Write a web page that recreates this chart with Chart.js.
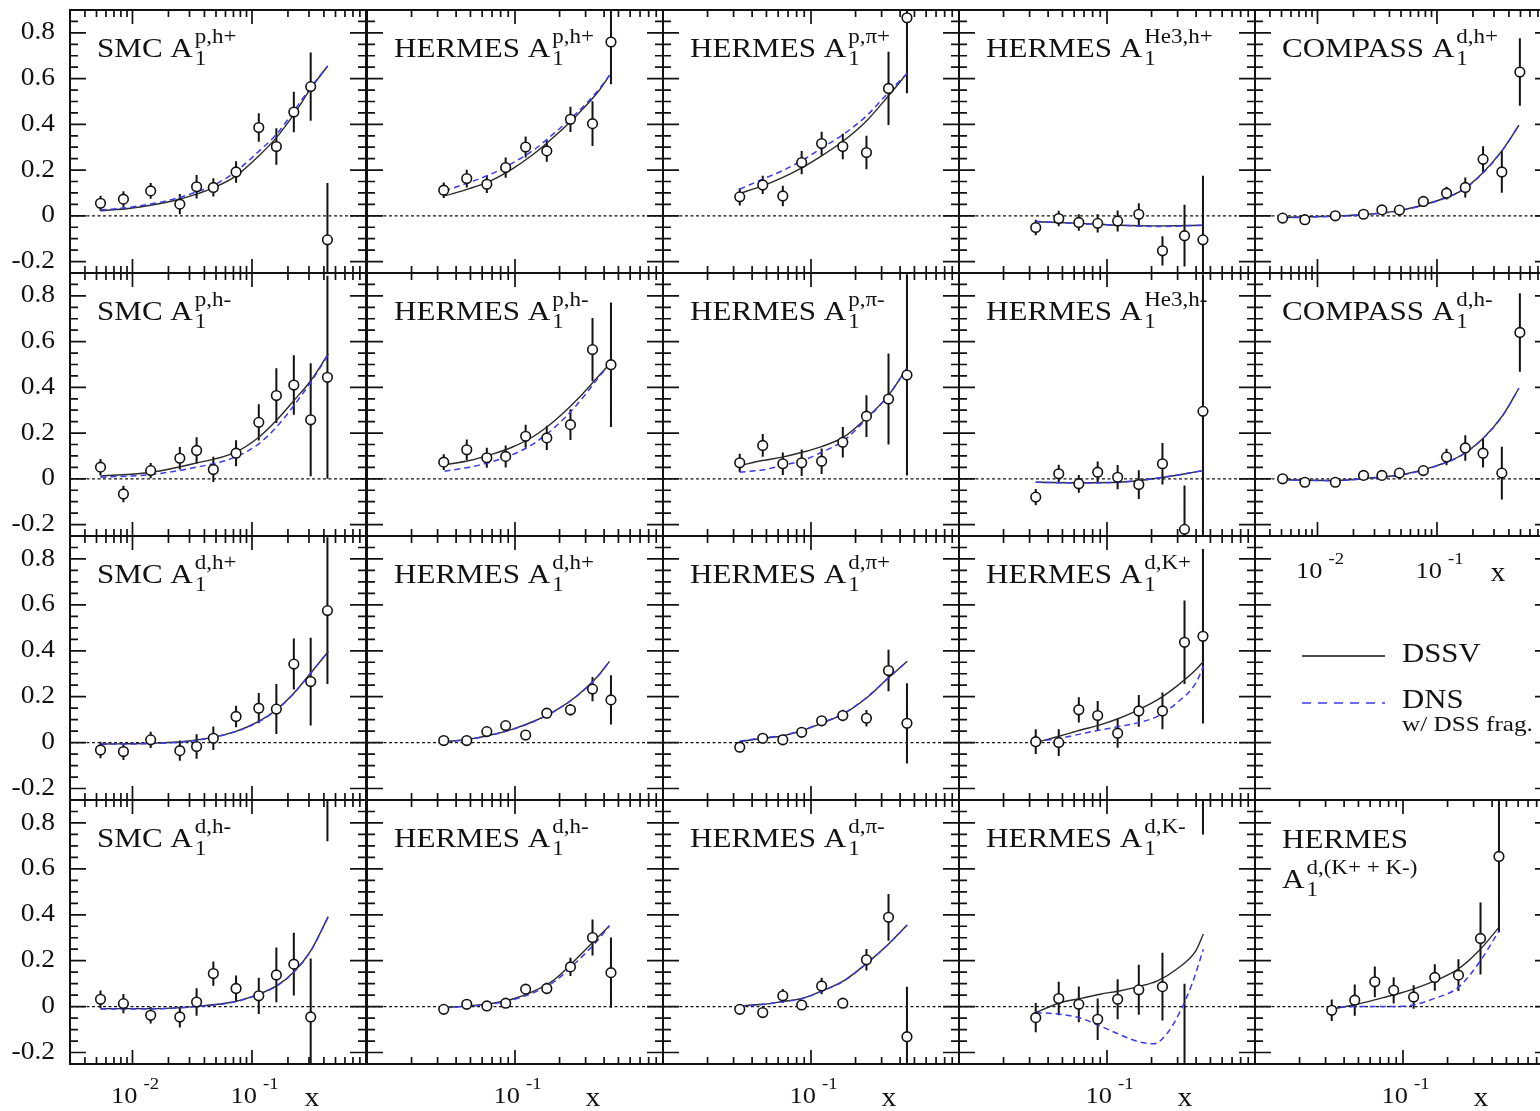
<!DOCTYPE html>
<html>
<head>
<meta charset="utf-8">
<title>A1 hadron asymmetries</title>
<script src="https://cdn.jsdelivr.net/npm/chart.js@4.4.1/dist/chart.umd.min.js"></script>
<style>
  html, body { margin: 0; padding: 0; background: #fff; }
  #fig { position: relative; width: 1540px; height: 1111px; overflow: hidden; background: #fff; }
  #fig canvas { position: absolute; }
</style>
</head>
<body>
<div id="fig"></div>
<script>
// ── axes ──
const yMin = -0.25, yMax = 0.9;
const wideRange = [0.003, 0.9];      // SMC + COMPASS panels
const hermesRange = [0.01, 1];       // HERMES panels
const yMajor = [-0.2, 0, 0.2, 0.4, 0.6, 0.8];
const yLabels = ['-0.2', '0', '0.2', '0.4', '0.6', '0.8'];
const yMinor = [-0.15, -0.1, -0.05, 0.05, 0.1, 0.15, 0.25, 0.3, 0.35, 0.45, 0.5, 0.55, 0.65, 0.7, 0.75, 0.85];
const decades = [0.001, 0.01, 0.1, 1];
const minorSteps = [2, 3, 4, 5, 6, 7, 8, 9];

// ── x bins ──
const smcBinX = [0.0054, 0.0084, 0.0142, 0.0249, 0.0344, 0.0475, 0.0736, 0.114, 0.160, 0.224, 0.310, 0.428];
const compassBinX = [0.00511, 0.00784, 0.0141, 0.0243, 0.0346, 0.0485, 0.0769, 0.1202, 0.1726, 0.243, 0.349, 0.494];
const hermesBinX = [0.033, 0.0472, 0.0645, 0.0865, 0.118, 0.164, 0.237, 0.334, 0.445];

// ── curve x grids ──
const smcPHpCurveX = [0.0054, 0.0096, 0.0215, 0.0344, 0.0483, 0.0736, 0.114, 0.160, 0.224, 0.310, 0.430];
const smcCurveX = [0.0054, 0.0144, 0.0323, 0.0724, 0.114, 0.160, 0.224, 0.310, 0.435];
const compassCurveX = [0.00511, 0.0139, 0.0268, 0.0518, 0.100, 0.1585, 0.235, 0.349, 0.485];
const hermesHCurveX = [0.0334, 0.0491, 0.0684, 0.0954, 0.133, 0.186, 0.259, 0.361, 0.435];
const hermesPiCurveX = [0.0329, 0.047, 0.064, 0.0873, 0.118, 0.166, 0.237, 0.333, 0.446];
const hermesHeCurveX = [0.033, 0.0667, 0.121, 0.219, 0.448];
const hermesKCurveX = [0.033, 0.0481, 0.0667, 0.0898, 0.121, 0.163, 0.219, 0.295, 0.398, 0.448];
const hermesDKmDnsX = [0.033, 0.0481, 0.0667, 0.0898, 0.121, 0.163, 0.207, 0.262, 0.313, 0.375, 0.448];
const hermesDKsCurveX = [0.032, 0.0467, 0.0733, 0.095, 0.117, 0.164, 0.2355, 0.333, 0.445];

// ── row 1 ──
const smcPHpY = [0.055, 0.073, 0.109, 0.051, 0.127, 0.124, 0.192, 0.386, 0.303, 0.454, 0.565, -0.105];
const smcPHpErr = [0.033, 0.035, 0.034, 0.044, 0.051, 0.040, 0.047, 0.062, 0.080, 0.089, 0.149, 0.248];
const smcPHpDssv = [0.022, 0.033, 0.065, 0.095, 0.124, 0.175, 0.262, 0.342, 0.444, 0.556, 0.655];
const smcPHpDns = [0.025, 0.038, 0.072, 0.105, 0.135, 0.195, 0.282, 0.356, 0.458, 0.562, 0.655];

const hermesPHpY = [0.112, 0.163, 0.138, 0.211, 0.301, 0.284, 0.422, 0.403, 0.760];
const hermesPHpErr = [0.034, 0.039, 0.038, 0.044, 0.046, 0.047, 0.055, 0.098, 0.185];
const hermesPHpDssv = [0.087, 0.119, 0.153, 0.204, 0.269, 0.349, 0.437, 0.539, 0.614];
const hermesPHpDns = [0.109, 0.146, 0.182, 0.229, 0.287, 0.364, 0.447, 0.546, 0.614];

const hermesPPipY = [0.083, 0.135, 0.087, 0.233, 0.316, 0.303, 0.277, 0.557, 0.866];
const hermesPPipErr = [0.038, 0.040, 0.045, 0.051, 0.052, 0.056, 0.073, 0.160, 0.330];
const hermesPPipDssv = [0.098, 0.131, 0.167, 0.211, 0.262, 0.328, 0.415, 0.524, 0.623];
const hermesPPipDns = [0.116, 0.160, 0.197, 0.243, 0.296, 0.357, 0.437, 0.539, 0.623];

const hermesHeHpY = [-0.051, -0.012, -0.029, -0.033, -0.023, 0.007, -0.153, -0.087, -0.105];
const hermesHeHpErr = [0.034, 0.034, 0.036, 0.040, 0.046, 0.048, 0.064, 0.135, 0.280];
const hermesHeHpDssv = [-0.026, -0.033, -0.041, -0.044, -0.041];
const hermesHeHpDns = [-0.024, -0.035, -0.041, -0.047, -0.041];

const compassDHpY = [-0.010, -0.017, 0.000, 0.007, 0.026, 0.025, 0.063, 0.099, 0.124, 0.247, 0.192, 0.629];
const compassDHpErr = [0.010, 0.010, 0.010, 0.010, 0.012, 0.015, 0.015, 0.028, 0.044, 0.057, 0.091, 0.148];
const compassDHpDssv = [-0.007, -0.001, 0.007, 0.026, 0.066, 0.109, 0.182, 0.284, 0.396];
const compassDHpDns = [-0.009, -0.002, 0.006, 0.025, 0.065, 0.108, 0.180, 0.283, 0.396];

// ── row 2 ──
const smcPHmY = [0.051, -0.066, 0.036, 0.090, 0.124, 0.041, 0.112, 0.247, 0.364, 0.410, 0.258, 0.444];
const smcPHmErr = [0.036, 0.036, 0.033, 0.049, 0.058, 0.055, 0.057, 0.079, 0.120, 0.130, 0.247, 0.444];
const smcPHmDssv = [0.012, 0.029, 0.066, 0.116, 0.182, 0.255, 0.342, 0.429, 0.546];
const smcPHmDns = [0.007, 0.019, 0.048, 0.095, 0.153, 0.226, 0.320, 0.422, 0.543];

const hermesPHmY = [0.073, 0.127, 0.092, 0.098, 0.186, 0.179, 0.237, 0.565, 0.499];
const hermesPHmErr = [0.034, 0.045, 0.044, 0.048, 0.050, 0.053, 0.067, 0.138, 0.272];
const hermesPHmDssv = [0.061, 0.080, 0.106, 0.138, 0.185, 0.255, 0.342, 0.444, 0.502];
const hermesPHmDns = [0.033, 0.051, 0.073, 0.105, 0.153, 0.226, 0.320, 0.437, 0.502];

const hermesPPimY = [0.070, 0.146, 0.066, 0.070, 0.077, 0.160, 0.274, 0.349, 0.454];
const hermesPPimErr = [0.040, 0.050, 0.049, 0.058, 0.056, 0.067, 0.091, 0.199, 0.440];
const hermesPPimDssv = [0.058, 0.080, 0.095, 0.116, 0.141, 0.182, 0.266, 0.364, 0.485];
const hermesPPimDns = [0.029, 0.039, 0.058, 0.080, 0.116, 0.167, 0.262, 0.364, 0.485];

const hermesHeHmY = [-0.080, 0.022, -0.022, 0.029, 0.007, -0.025, 0.066, -0.221, 0.295];
const hermesHeHmErr = [0.035, 0.040, 0.039, 0.047, 0.053, 0.063, 0.091, 0.192, 0.600];
const hermesHeHmDssv = [-0.015, -0.017, -0.015, 0.003, 0.036];
const hermesHeHmDns = [-0.015, -0.018, -0.015, 0.003, 0.036];

const compassDHmY = [0.000, -0.015, -0.015, 0.015, 0.015, 0.025, 0.036, 0.095, 0.135, 0.112, 0.025, 0.640];
const compassDHmErr = [0.010, 0.010, 0.010, 0.010, 0.012, 0.013, 0.015, 0.036, 0.056, 0.063, 0.115, 0.172];
const compassDHmDssv = [-0.004, -0.007, 0.003, 0.019, 0.058, 0.102, 0.170, 0.272, 0.396];
const compassDHmDns = [-0.006, -0.008, 0.002, 0.018, 0.057, 0.101, 0.169, 0.271, 0.396];

// ── row 3 ──
const smcDHpY = [-0.032, -0.039, 0.012, -0.035, -0.017, 0.019, 0.114, 0.150, 0.146, 0.342, 0.266, 0.575];
const smcDHpErr = [0.036, 0.037, 0.035, 0.044, 0.053, 0.051, 0.047, 0.066, 0.109, 0.111, 0.191, 0.320];
const smcDHpDssv = [-0.006, -0.003, 0.009, 0.048, 0.092, 0.143, 0.215, 0.303, 0.397];
const smcDHpDns = [-0.007, -0.004, 0.008, 0.047, 0.091, 0.142, 0.214, 0.302, 0.397];

const hermesDHpY = [0.009, 0.009, 0.048, 0.074, 0.033, 0.128, 0.143, 0.233, 0.186];
const hermesDHpErr = [0.010, 0.010, 0.015, 0.018, 0.015, 0.020, 0.025, 0.053, 0.107];
const hermesDHpDssv = [0.004, 0.015, 0.033, 0.058, 0.092, 0.138, 0.201, 0.288, 0.354];
const hermesDHpDns = [0.003, 0.014, 0.032, 0.057, 0.091, 0.137, 0.200, 0.287, 0.354];

const hermesDPipY = [-0.020, 0.019, 0.012, 0.045, 0.095, 0.118, 0.106, 0.314, 0.084];
const hermesDPipErr = [0.010, 0.015, 0.012, 0.018, 0.018, 0.025, 0.036, 0.090, 0.175];
const hermesDPipDssv = [0.004, 0.019, 0.029, 0.052, 0.084, 0.125, 0.194, 0.281, 0.354];
const hermesDPipDns = [0.006, 0.021, 0.031, 0.054, 0.086, 0.127, 0.196, 0.282, 0.354];

const hermesDKpY = [0.004, 0.000, 0.143, 0.118, 0.041, 0.138, 0.138, 0.437, 0.463];
const hermesDKpErr = [0.054, 0.058, 0.055, 0.063, 0.063, 0.069, 0.080, 0.182, 0.380];
const hermesDKpDssv = [0.000, 0.029, 0.055, 0.077, 0.106, 0.143, 0.186, 0.245, 0.317, 0.354];
const hermesDKpDns = [0.004, 0.019, 0.038, 0.055, 0.070, 0.087, 0.114, 0.172, 0.259, 0.332];

// ── row 4 ──
const smcDHmY = [0.032, 0.013, -0.038, -0.045, 0.020, 0.144, 0.079, 0.047, 0.138, 0.185, -0.045, 1.100];
const smcDHmErr = [0.038, 0.042, 0.036, 0.046, 0.060, 0.053, 0.057, 0.079, 0.119, 0.137, 0.255, 0.380];
const smcDHmDssv = [-0.009, -0.009, 0.000, 0.022, 0.054, 0.090, 0.151, 0.243, 0.392];
const smcDHmDns = [-0.010, -0.010, -0.001, 0.021, 0.053, 0.089, 0.150, 0.242, 0.392];

const hermesDHmY = [-0.012, 0.010, 0.003, 0.015, 0.076, 0.079, 0.173, 0.301, 0.148];
const hermesDHmErr = [0.010, 0.012, 0.012, 0.018, 0.022, 0.025, 0.040, 0.078, 0.153];
const hermesDHmDssv = [-0.004, 0.003, 0.013, 0.032, 0.066, 0.119, 0.207, 0.301, 0.352];
const hermesDHmDns = [-0.005, 0.002, 0.011, 0.029, 0.060, 0.111, 0.193, 0.288, 0.352];

const hermesDPimY = [-0.012, -0.026, 0.047, 0.007, 0.090, 0.015, 0.204, 0.389, -0.131];
const hermesDPimErr = [0.012, 0.015, 0.030, 0.015, 0.036, 0.020, 0.047, 0.102, 0.218];
const hermesDPimDssv = [0.003, 0.010, 0.022, 0.036, 0.068, 0.112, 0.188, 0.272, 0.355];
const hermesDPimDns = [0.002, 0.009, 0.021, 0.035, 0.067, 0.111, 0.187, 0.271, 0.355];

const hermesDKmY = [-0.048, 0.035, 0.010, -0.055, 0.032, 0.073, 0.087, -0.350, 1.150];
const hermesDKmErr = [0.064, 0.073, 0.078, 0.090, 0.087, 0.109, 0.148, 0.450, 0.400];
const hermesDKmDssv = [-0.026, 0.017, 0.036, 0.054, 0.068, 0.087, 0.112, 0.163, 0.243, 0.316];
const hermesDKmDns = [-0.026, -0.033, -0.051, -0.084, -0.121, -0.153, -0.162, -0.106, -0.019, 0.098, 0.250];

const hermesDKsY = [-0.016, 0.028, 0.108, 0.071, 0.042, 0.127, 0.137, 0.297, 0.654];
const hermesDKsErr = [0.047, 0.068, 0.067, 0.057, 0.051, 0.058, 0.069, 0.157, 0.330];
const hermesDKsDssv = [-0.012, 0.007, 0.039, 0.058, 0.076, 0.112, 0.163, 0.250, 0.345];
const hermesDKsDns = [-0.004, 0.000, 0.000, 0.001, 0.007, 0.036, 0.083, 0.199, 0.330];

// ── layout ──
const colLeft = [70, 367, 663, 959, 1255];
const colWidth = 296;
const rowEdges = [10, 273, 536, 800, 1064];
const ink = '#121212';
const dnsBlue = '#3b3bef';

const panels = [
  { row: 0, col: 0, name: 'SMC', sup: 'p,h+', range: wideRange, x: smcBinX, y: smcPHpY, err: smcPHpErr, cx: smcPHpCurveX, dssv: smcPHpDssv, dns: smcPHpDns },
  { row: 0, col: 1, name: 'HERMES', sup: 'p,h+', range: hermesRange, x: hermesBinX, y: hermesPHpY, err: hermesPHpErr, cx: hermesHCurveX, dssv: hermesPHpDssv, dns: hermesPHpDns },
  { row: 0, col: 2, name: 'HERMES', sup: 'p,\u03c0+', range: hermesRange, x: hermesBinX, y: hermesPPipY, err: hermesPPipErr, cx: hermesPiCurveX, dssv: hermesPPipDssv, dns: hermesPPipDns },
  { row: 0, col: 3, name: 'HERMES', sup: 'He3,h+', range: hermesRange, x: hermesBinX, y: hermesHeHpY, err: hermesHeHpErr, cx: hermesHeCurveX, dssv: hermesHeHpDssv, dns: hermesHeHpDns },
  { row: 0, col: 4, name: 'COMPASS', sup: 'd,h+', range: wideRange, x: compassBinX, y: compassDHpY, err: compassDHpErr, cx: compassCurveX, dssv: compassDHpDssv, dns: compassDHpDns },

  { row: 1, col: 0, name: 'SMC', sup: 'p,h-', range: wideRange, x: smcBinX, y: smcPHmY, err: smcPHmErr, cx: smcCurveX, dssv: smcPHmDssv, dns: smcPHmDns },
  { row: 1, col: 1, name: 'HERMES', sup: 'p,h-', range: hermesRange, x: hermesBinX, y: hermesPHmY, err: hermesPHmErr, cx: hermesHCurveX, dssv: hermesPHmDssv, dns: hermesPHmDns },
  { row: 1, col: 2, name: 'HERMES', sup: 'p,\u03c0-', range: hermesRange, x: hermesBinX, y: hermesPPimY, err: hermesPPimErr, cx: hermesPiCurveX, dssv: hermesPPimDssv, dns: hermesPPimDns },
  { row: 1, col: 3, name: 'HERMES', sup: 'He3,h-', range: hermesRange, x: hermesBinX, y: hermesHeHmY, err: hermesHeHmErr, cx: hermesHeCurveX, dssv: hermesHeHmDssv, dns: hermesHeHmDns },
  { row: 1, col: 4, name: 'COMPASS', sup: 'd,h-', range: wideRange, x: compassBinX, y: compassDHmY, err: compassDHmErr, cx: compassCurveX, dssv: compassDHmDssv, dns: compassDHmDns },

  { row: 2, col: 0, name: 'SMC', sup: 'd,h+', range: wideRange, x: smcBinX, y: smcDHpY, err: smcDHpErr, cx: smcCurveX, dssv: smcDHpDssv, dns: smcDHpDns },
  { row: 2, col: 1, name: 'HERMES', sup: 'd,h+', range: hermesRange, x: hermesBinX, y: hermesDHpY, err: hermesDHpErr, cx: hermesHCurveX, dssv: hermesDHpDssv, dns: hermesDHpDns },
  { row: 2, col: 2, name: 'HERMES', sup: 'd,\u03c0+', range: hermesRange, x: hermesBinX, y: hermesDPipY, err: hermesDPipErr, cx: hermesPiCurveX, dssv: hermesDPipDssv, dns: hermesDPipDns },
  { row: 2, col: 3, name: 'HERMES', sup: 'd,K+', range: hermesRange, x: hermesBinX, y: hermesDKpY, err: hermesDKpErr, cx: hermesKCurveX, dssv: hermesDKpDssv, dns: hermesDKpDns },
  { row: 2, col: 4, legend: true, range: wideRange },

  { row: 3, col: 0, name: 'SMC', sup: 'd,h-', range: wideRange, x: smcBinX, y: smcDHmY, err: smcDHmErr, cx: smcCurveX, dssv: smcDHmDssv, dns: smcDHmDns },
  { row: 3, col: 1, name: 'HERMES', sup: 'd,h-', range: hermesRange, x: hermesBinX, y: hermesDHmY, err: hermesDHmErr, cx: hermesHCurveX, dssv: hermesDHmDssv, dns: hermesDHmDns },
  { row: 3, col: 2, name: 'HERMES', sup: 'd,\u03c0-', range: hermesRange, x: hermesBinX, y: hermesDPimY, err: hermesDPimErr, cx: hermesPiCurveX, dssv: hermesDPimDssv, dns: hermesDPimDns },
  { row: 3, col: 3, name: 'HERMES', sup: 'd,K-', range: hermesRange, x: hermesBinX, y: hermesDKmY, err: hermesDKmErr, cx: hermesKCurveX, dssv: hermesDKmDssv, dnsX: hermesDKmDnsX, dns: hermesDKmDns },
  { row: 3, col: 4, name: 'HERMES', line2: true, sup: 'd,(K+ + K-)', range: hermesRange, x: hermesBinX, y: hermesDKsY, err: hermesDKsErr, cx: hermesDKsCurveX, dssv: hermesDKsDssv, dns: hermesDKsDns },
];

const serif = size => `${size}px "Liberation Serif", "Times New Roman", serif`;
const pairs = (xs, ys) => xs.map((v, i) => ({ x: v, y: ys[i] }));

// text drawn slightly wider than the font, like the scanned original; returns drawn width
function wideText(ctx, text, x, y, sx, align) {
  const w = ctx.measureText(text).width * sx;
  const x0 = align === 'right' ? x - w : align === 'center' ? x - w / 2 : x;
  ctx.save();
  ctx.textAlign = 'left';
  ctx.translate(x0, y);
  ctx.scale(sx, 1);
  ctx.fillText(text, 0, 0);
  ctx.restore();
  return w;
}

// decade labels "10^-n" + "x" title
function drawDecadeLabels(ctx, xs, vals, base, xTitleAt) {
  vals.forEach(v => {
    const px = xs.getPixelForValue(v);
    ctx.font = serif(24);
    wideText(ctx, '10', px + 5, base, 1.1, 'right');
    ctx.font = serif(17);
    wideText(ctx, v === 0.01 ? '-2' : '-1', px + 11, base - 14, 1.1, 'left');
  });
  ctx.font = serif(27);
  wideText(ctx, 'x', xTitleAt, base + 3, 1.1, 'center');
}

function decorPlugin(p) {
  return {
    id: 'decor',
    beforeDatasetsDraw(chart) {
      if (p.legend) return;
      const { ctx, chartArea: a, scales: { x: xs, y: ys } } = chart;
      ctx.save();
      ctx.beginPath();
      ctx.rect(a.left, a.top, a.width, a.height);
      ctx.clip();
      // dotted zero line
      ctx.strokeStyle = ink;
      ctx.lineWidth = 1.3;
      ctx.setLineDash([3, 2.5]);
      const y0 = ys.getPixelForValue(0);
      ctx.beginPath();
      ctx.moveTo(a.left, y0);
      ctx.lineTo(a.right, y0);
      ctx.stroke();
      // error bars
      ctx.setLineDash([]);
      ctx.lineWidth = 2;
      ctx.beginPath();
      p.x.forEach((v, i) => {
        const px = xs.getPixelForValue(v);
        ctx.moveTo(px, ys.getPixelForValue(p.y[i] + p.err[i]));
        ctx.lineTo(px, ys.getPixelForValue(p.y[i] - p.err[i]));
      });
      ctx.stroke();
      ctx.restore();
    },
    afterDraw(chart) {
      const { ctx, chartArea: a, scales: { x: xs, y: ys } } = chart;
      const [lo, hi] = p.range;
      ctx.save();
      ctx.strokeStyle = ink;
      ctx.fillStyle = ink;

      // inward ticks
      ctx.lineWidth = 1.7;
      ctx.beginPath();
      const yTick = (v, len) => {
        const py = ys.getPixelForValue(v);
        ctx.moveTo(a.left, py); ctx.lineTo(a.left + len, py);
        ctx.moveTo(a.right, py); ctx.lineTo(a.right - len, py);
      };
      yMajor.forEach(v => yTick(v, 16));
      yMinor.forEach(v => yTick(v, 8));
      if (!p.legend) {
        decades.forEach(d => [1, ...minorSteps].forEach(m => {
          const v = d * m;
          if (v <= lo * 1.001 || v >= hi * 0.999) return;
          const px = xs.getPixelForValue(v);
          const len = m === 1 ? 14 : 7;
          ctx.moveTo(px, a.top); ctx.lineTo(px, a.top + len);
          ctx.moveTo(px, a.bottom); ctx.lineTo(px, a.bottom - len);
        }));
      }
      ctx.stroke();

      // frame
      ctx.lineWidth = 2;
      ctx.strokeRect(a.left, a.top, a.width, a.height);

      // y labels on the first column
      if (p.col === 0) {
        ctx.font = serif(25);
        ctx.textBaseline = 'middle';
        yMajor.forEach((v, i) => wideText(ctx, yLabels[i], a.left - 15, ys.getPixelForValue(v), 1.1, 'right'));
      }
      ctx.textBaseline = 'alphabetic';

      if (p.legend) {
        drawDecadeLabels(ctx, xs, [0.01, 0.1], a.top + 42, a.left + 243);
        ctx.lineWidth = 1.6;
        ctx.beginPath();
        ctx.moveTo(a.left + 47, a.top + 120);
        ctx.lineTo(a.left + 130, a.top + 120);
        ctx.stroke();
        ctx.strokeStyle = dnsBlue;
        ctx.setLineDash([9, 7]);
        ctx.beginPath();
        ctx.moveTo(a.left + 47, a.top + 167);
        ctx.lineTo(a.left + 130, a.top + 167);
        ctx.stroke();
        ctx.setLineDash([]);
        ctx.font = serif(28);
        wideText(ctx, 'DSSV', a.left + 147, a.top + 126, 1.1, 'left');
        wideText(ctx, 'DNS', a.left + 147, a.top + 172, 1.1, 'left');
        ctx.font = serif(21);
        wideText(ctx, 'w/ DSS frag.', a.left + 147, a.top + 195, 1.2, 'left');
        ctx.restore();
        return;
      }

      // panel title: NAME A_1^{sup}
      const sx = 1.15;
      let tx = a.left + 27, base = a.top + 47;
      ctx.font = serif(27);
      if (p.line2) {
        wideText(ctx, p.name, tx, a.top + 48, sx, 'left');
        base = a.top + 88;
        tx += wideText(ctx, 'A', tx, base, sx, 'left') + 2;
      } else {
        tx += wideText(ctx, p.name + ' A', tx, base, sx, 'left') + 2;
      }
      ctx.font = serif(20);
      wideText(ctx, p.sup, tx, base - 14, sx, 'left');
      wideText(ctx, '1', tx, base + 8, sx, 'left');

      // x labels below the bottom row
      if (p.row === 3) {
        const vals = p.col === 0 ? [0.01, 0.1] : [0.1];
        drawDecadeLabels(ctx, xs, vals, a.bottom + 39, a.left + (p.col === 0 ? 242 : 226));
      }
      ctx.restore();
    }
  };
}

function buildPanel(p) {
  const fig = document.getElementById('fig');
  const left = colLeft[p.col];
  const top = rowEdges[p.row];
  const h = rowEdges[p.row + 1] - top;
  const pad = {
    left: p.col === 0 ? 70 : 12,
    right: 12,
    top: p.row === 0 ? 10 : 12,
    bottom: p.row === 3 ? 47 : 12
  };
  const cv = document.createElement('canvas');
  cv.width = colWidth + pad.left + pad.right;
  cv.height = h + pad.top + pad.bottom;
  cv.style.left = (left - pad.left) + 'px';
  cv.style.top = (top - pad.top) + 'px';
  fig.appendChild(cv);

  const datasets = p.legend ? [] : [
    {
      label: 'data', order: 0,
      data: pairs(p.x, p.y),
      showLine: false,
      pointStyle: 'circle', pointRadius: 4.8, pointBorderWidth: 1.6,
      pointBorderColor: ink, pointBackgroundColor: '#fff'
    },
    {
      label: 'DNS', order: 1,
      data: pairs(p.dnsX || p.cx, p.dns),
      showLine: true, pointRadius: 0,
      borderColor: dnsBlue, borderWidth: 1.5, borderDash: [6, 4],
      cubicInterpolationMode: 'monotone'
    },
    {
      label: 'DSSV', order: 2,
      data: pairs(p.cx, p.dssv),
      showLine: true, pointRadius: 0,
      borderColor: '#2a2a2a', borderWidth: 1.4,
      cubicInterpolationMode: 'monotone'
    }
  ];

  new Chart(cv, {
    type: 'scatter',
    data: { datasets },
    options: {
      responsive: false,
      animation: false,
      devicePixelRatio: 1,
      layout: { padding: pad },
      plugins: { legend: { display: false }, tooltip: { enabled: false } },
      events: [],
      scales: {
        x: { type: 'logarithmic', min: p.range[0], max: p.range[1], display: false },
        y: { type: 'linear', min: yMin, max: yMax, display: false }
      }
    },
    plugins: [decorPlugin(p)]
  });
}

panels.forEach(buildPanel);
</script>
</body>
</html>
